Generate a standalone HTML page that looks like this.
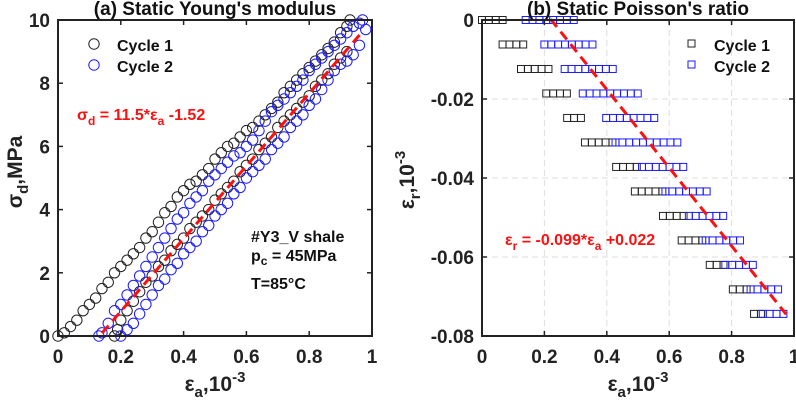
<!DOCTYPE html>
<html><head><meta charset="utf-8"><style>
body{margin:0;background:#fff}
svg{display:block;font-family:"Liberation Sans",Arial,sans-serif;font-weight:bold}
</style></head><body>
<svg id="c" width="796" height="402" viewBox="0 0 796 402"></svg>
<script>
// ---- Panel (a) data ----
const c1LoadX=[0,0.02,0.04,0.06,0.08,0.10,0.12,0.14,0.16,0.18,0.20,0.22,0.24,0.26,0.28,0.30,0.32,0.34,0.36,0.38,0.40,0.42,0.44,0.46,0.48,0.50,0.52,0.54,0.56,0.58,0.60,0.62,0.64,0.66,0.68,0.70,0.72,0.74,0.76,0.78,0.80,0.82,0.84,0.86,0.88,0.90,0.92,0.93];
const c1LoadY=[0,0.1,0.3,0.5,0.8,1.0,1.2,1.5,1.7,2.0,2.2,2.4,2.6,2.8,3.1,3.3,3.6,3.9,4.1,4.4,4.6,4.8,4.9,5.1,5.3,5.6,5.8,6.0,6.1,6.3,6.5,6.6,6.8,7.0,7.2,7.4,7.7,7.9,8.1,8.3,8.5,8.7,8.9,9.1,9.3,9.6,9.8,10];
const c1UnX=[0.92,0.90,0.88,0.86,0.84,0.82,0.80,0.78,0.76,0.74,0.72,0.70,0.68,0.66,0.64,0.62,0.60,0.58,0.56,0.54,0.52,0.50,0.48,0.46,0.44,0.42,0.40,0.38,0.36,0.34,0.32,0.30,0.28,0.26,0.24,0.22,0.20,0.19,0.18];
const c1UnY=[9.0,8.8,8.6,8.3,8.1,7.9,7.6,7.4,7.2,7.0,6.8,6.6,6.3,6.1,5.9,5.6,5.4,5.2,4.9,4.7,4.5,4.3,4.0,3.8,3.6,3.4,3.1,2.9,2.7,2.4,2.2,1.9,1.7,1.4,1.1,0.8,0.5,0.2,0];
const c2LoadX=[0.13,0.14,0.16,0.18,0.20,0.22,0.24,0.26,0.28,0.30,0.32,0.34,0.36,0.38,0.40,0.42,0.44,0.46,0.48,0.50,0.52,0.54,0.56,0.58,0.60,0.62,0.64,0.66,0.68,0.70,0.72,0.74,0.76,0.78,0.80,0.82,0.84,0.86,0.88,0.90,0.92,0.94,0.96,0.97];
const c2LoadY=[0,0.1,0.4,0.8,1.0,1.3,1.6,1.9,2.2,2.5,2.8,3.1,3.4,3.7,3.9,4.2,4.4,4.6,4.9,5.1,5.3,5.5,5.7,5.8,6.0,6.2,6.5,6.8,7.1,7.3,7.5,7.7,7.9,8.1,8.4,8.6,8.8,9.0,9.2,9.4,9.6,9.8,9.9,10];
const c2UnX=[0.98,0.96,0.94,0.92,0.90,0.88,0.86,0.84,0.82,0.80,0.78,0.76,0.74,0.72,0.70,0.68,0.66,0.64,0.62,0.60,0.58,0.56,0.54,0.52,0.50,0.48,0.46,0.44,0.42,0.40,0.38,0.36,0.34,0.32,0.30,0.28,0.26,0.24,0.22,0.20];
const c2UnY=[9.7,9.2,8.9,8.7,8.6,8.4,8.1,7.8,7.5,7.3,7.0,6.8,6.6,6.3,6.1,5.9,5.6,5.4,5.2,5.0,4.7,4.5,4.2,4.0,3.8,3.5,3.3,3.0,2.8,2.6,2.3,2.1,1.8,1.6,1.3,1.0,0.7,0.4,0.2,0.0];
const fitA=[11.5,-1.52]; const fitAX=[0.14,0.97];
const xTicks=[0,0.2,0.4,0.6,0.8,1]; const xTickLabels=["0","0.2","0.4","0.6","0.8","1"];
const yTicksA=[0,2,4,6,8,10];
// ---- Panel (b) data ----
const rowLevels=[0,-0.0062,-0.0124,-0.0186,-0.0248,-0.031,-0.0372,-0.0434,-0.0496,-0.0558,-0.062,-0.0682,-0.0744];
const c1Min=[0.0,0.066,0.125,0.206,0.273,0.33,0.43,0.49,0.58,0.64,0.73,0.804,0.872];
const c1Max=[0.075,0.14,0.217,0.283,0.334,0.428,0.5,0.588,0.647,0.717,0.78,0.861,0.915];
const c2Min=[0.14,0.2,0.265,0.323,0.398,0.428,0.513,0.588,0.663,0.717,0.78,0.861,0.9];
const c2Max=[0.315,0.356,0.433,0.5,0.556,0.64,0.665,0.73,0.78,0.84,0.888,0.954,0.986];
const fitB=[-0.099,0.022]; const fitBX=[0.22,0.975];
const yTicksB=[0,-0.02,-0.04,-0.06,-0.08]; const yTickLabelsB=["0","-0.02","-0.04","-0.06","-0.08"];

const NS="http://www.w3.org/2000/svg", svg=document.getElementById('c');
function el(t,a,p){const e=document.createElementNS(NS,t);for(const k in a)e.setAttribute(k,a[k]);(p||svg).appendChild(e);return e;}
const A={x0:58,x1:372,y0:336,y1:20}, B={x0:482,x1:794,y0:20,y1:336};
const ax=v=>A.x0+v*(A.x1-A.x0), ay=v=>A.y0-v/10*(A.y0-A.y1);
const bx=v=>B.x0+v*(B.x1-B.x0), by=v=>B.y0+(-v)/0.08*(B.y1-B.y0);

const gB=el('g',{});


xTicks.forEach(t=>{if(t>0&&t<1)el('line',{x1:bx(t),x2:bx(t),y1:B.y0,y2:B.y1,stroke:'#ddd','stroke-dasharray':'6,4','stroke-width':1},gB);});
yTicksB.forEach(t=>{if(t<0&&t>-0.08)el('line',{x1:B.x0,x2:B.x1,y1:by(t),y2:by(t),stroke:'#ddd','stroke-dasharray':'6,4','stroke-width':1},gB);});

function circles(xs,ys,col,name){const g=el('g',{});


xs.forEach((x,i)=>el('circle',{cx:ax(x),cy:ay(ys[i]),r:5.2,fill:'none',stroke:col,'stroke-width':1},g));}
circles(c1LoadX,c1LoadY,'#222','cycle1-loading');
circles(c1UnX,c1UnY,'#222','cycle1-unloading');
circles(c2LoadX,c2LoadY,'#1a1aff','cycle2-loading');
circles(c2UnX,c2UnY,'#1a1aff','cycle2-unloading');
const fa=el('line',{x1:ax(fitAX[0]),y1:ay(fitA[0]*fitAX[0]+fitA[1]),x2:ax(fitAX[1]),y2:ay(fitA[0]*fitAX[1]+fitA[1]),stroke:'#ff1010','stroke-width':3,'stroke-dasharray':'10,6'});



function squares(mins,maxs,col,name){const g=el('g',{});


rowLevels.forEach((lv,i)=>{for(let x=mins[i];x<=maxs[i]+1e-9;x+=0.022){el('rect',{x:bx(x)-3.5,y:by(lv)-3.5,width:7,height:7,fill:'none',stroke:col,'stroke-width':1},g);}});}
squares(c1Min,c1Max,'#222','cycle1-squares');
squares(c2Min,c2Max,'#1a1aff','cycle2-squares');
const fb=el('line',{x1:bx(fitBX[0]),y1:by(fitB[0]*fitBX[0]+fitB[1]),x2:bx(fitBX[1]),y2:by(fitB[0]*fitBX[1]+fitB[1]),stroke:'#ff1010','stroke-width':3,'stroke-dasharray':'10,6'});



function frame(P,name){const r=el('rect',{x:P.x0,y:Math.min(P.y0,P.y1),width:P.x1-P.x0,height:Math.abs(P.y1-P.y0),fill:'none',stroke:'#222','stroke-width':2});

}
frame(A,'axes-a');frame(B,'axes-b');
xTicks.forEach((t,i)=>{
 [ax,bx].forEach(f=>{const x=f(t);
  el('line',{x1:x,x2:x,y1:336,y2:331,stroke:'#222','stroke-width':1.5});
  el('line',{x1:x,x2:x,y1:20,y2:25,stroke:'#222','stroke-width':1.5});
  const tx=el('text',{x:x,y:363,'font-size':19,'text-anchor':'middle',fill:'#222'});tx.textContent=xTickLabels[i];
  
  });
});
yTicksA.forEach(t=>{const y=ay(t);
 el('line',{x1:58,x2:63,y1:y,y2:y,stroke:'#222','stroke-width':1.5});el('line',{x1:372,x2:367,y1:y,y2:y,stroke:'#222','stroke-width':1.5});
 const tx=el('text',{x:50,y:y+7,'font-size':19,'text-anchor':'end',fill:'#222'});tx.textContent=String(t);
 
 });
yTicksB.forEach((t,i)=>{const y=by(t);
 el('line',{x1:482,x2:487,y1:y,y2:y,stroke:'#222','stroke-width':1.5});el('line',{x1:794,x2:789,y1:y,y2:y,stroke:'#222','stroke-width':1.5});
 const tx=el('text',{x:474,y:y+7,'font-size':19,'text-anchor':'end',fill:'#222'});tx.textContent=yTickLabelsB[i];
 
 });
</script>
<svg width="796" height="402" style="position:absolute;left:0;top:0" font-family="Liberation Sans, Arial, sans-serif" font-weight="bold">
<text x="215" y="15" font-size="19" text-anchor="middle" fill="#111">(a) Static Young's modulus</text>
<text x="638" y="15" font-size="19" text-anchor="middle" fill="#111">(b) Static Poisson's ratio</text>
<text x="215" y="391" font-size="21" text-anchor="middle" fill="#222">ε<tspan font-size="15" dy="6">a</tspan><tspan dy="-6">,10</tspan><tspan font-size="15" dy="-9">-3</tspan></text>
<text x="638" y="391" font-size="21" text-anchor="middle" fill="#222">ε<tspan font-size="15" dy="6">a</tspan><tspan dy="-6">,10</tspan><tspan font-size="15" dy="-9">-3</tspan></text>
<text transform="translate(22,172) rotate(-90)" font-size="21" text-anchor="middle" fill="#222">σ<tspan font-size="15" dy="6">d</tspan><tspan dy="-6">,MPa</tspan></text>
<text transform="translate(414,180) rotate(-90)" font-size="21" text-anchor="middle" fill="#222">ε<tspan font-size="15" dy="6">r</tspan><tspan dy="-6">,10</tspan><tspan font-size="15" dy="-9">-3</tspan></text>
<g>
<circle cx="94" cy="44" r="5.2" fill="none" stroke="#222"/><text x="117" y="51" font-size="16" fill="#111">Cycle 1</text>
<circle cx="94" cy="65" r="5.2" fill="none" stroke="#1a1aff"/><text x="117" y="72" font-size="16" fill="#111">Cycle 2</text>
</g>
<g>
<rect x="688" y="40" width="7" height="7" fill="none" stroke="#222"/><text x="714" y="51" font-size="16" fill="#111">Cycle 1</text>
<rect x="688" y="61" width="7" height="7" fill="none" stroke="#1a1aff"/><text x="714" y="72" font-size="16" fill="#111">Cycle 2</text>
</g>
<text x="77" y="120" font-size="16" fill="#ff1010">σ<tspan font-size="12" dy="5">d</tspan><tspan dy="-5"> = 11.5*ε</tspan><tspan font-size="12" dy="5">a</tspan><tspan dy="-5"> -1.52</tspan></text>
<text x="505" y="245" font-size="16" fill="#ff1010">ε<tspan font-size="12" dy="5">r</tspan><tspan dy="-5"> = -0.099*ε</tspan><tspan font-size="12" dy="5">a</tspan><tspan dy="-5"> +0.022</tspan></text>
<g font-size="16" fill="#111">
<text x="251" y="242">#Y3_V shale</text>
<text x="251" y="261">p<tspan font-size="12" dy="4">c</tspan><tspan dy="-4"> = 45MPa</tspan></text>
<text x="251" y="289">T=85°C</text>
</g>
</svg>
</body></html>
